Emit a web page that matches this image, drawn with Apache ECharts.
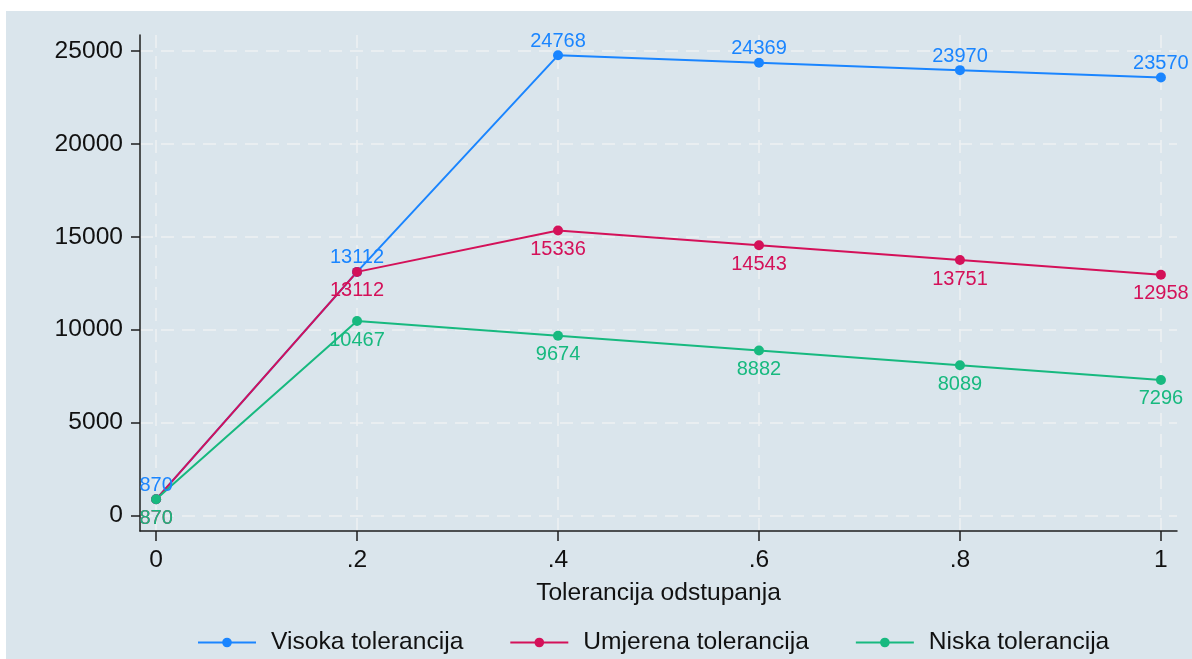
<!DOCTYPE html>
<html>
<head>
<meta charset="utf-8">
<script src="https://cdn.jsdelivr.net/npm/echarts@6/dist/echarts.min.js"></script>
<style>
html,body{margin:0;padding:0;background:#ffffff;width:1192px;height:659px;overflow:hidden;}
#chart{position:absolute;left:6px;top:11px;width:1186px;height:648px;background:#dae5ec;}
</style>
</head>
<body>
<div id="chart"></div>
<script>
// ---- data ----
const xValues = [0, 0.2, 0.4, 0.6, 0.8, 1];
const xTickLabels = ["0", ".2", ".4", ".6", ".8", "1"];
const yTicks = [0, 5000, 10000, 15000, 20000, 25000];
const seriesNames = ["Visoka tolerancija", "Umjerena tolerancija", "Niska tolerancija"];
const visoka = [870, 13112, 24768, 24369, 23970, 23570];
const umjerena = [870, 13112, 15336, 14543, 13751, 12958];
const niska = [870, 10467, 9674, 8882, 8089, 7296];
const xAxisTitle = "Tolerancija odstupanja";

const colors = ["#1a85ff", "#d41159", "#17b97f"];
const FONT = "'Liberation Sans', Arial, Helvetica, sans-serif";
const FS = 24.6;

function pairs(vals) { return xValues.map((x, i) => [x, vals[i]]); }

function mkSeries(name, vals, color, pos, dist) {
  return {
    name: name,
    type: 'line',
    data: pairs(vals),
    symbol: 'circle',
    symbolSize: 10,
    clip: false,
    lineStyle: { color: color, width: 2 },
    itemStyle: { color: color },
    label: {
      show: true,
      position: pos,
      distance: dist,
      color: color,
      fontSize: 20,
      fontFamily: FONT
    },
    emphasis: { disabled: true },
    animation: false
  };
}

const chart = echarts.init(document.getElementById('chart'), null, { renderer: 'canvas' });
const axisColor = '#1e1e1e';
const gridLine = { show: true, lineStyle: { color: '#eef1f2', width: 1.5, type: [13, 8] } };

chart.setOption({
  animation: false,
  backgroundColor: '#dae5ec',
  textStyle: { fontFamily: FONT },
  grid: { left: 134, right: 15, top: 24, bottom: 128, containLabel: false },
  xAxis: {
    type: 'value',
    min: -0.016,
    max: 1.016,
    name: xAxisTitle,
    nameLocation: 'middle',
    nameGap: 50,
    nameTextStyle: { fontSize: FS, color: '#111', fontFamily: FONT },
    axisLine: { show: true, onZero: false, lineStyle: { color: axisColor, width: 1.5 } },
    axisTick: { show: true, length: 10, customValues: xValues, lineStyle: { color: axisColor, width: 1.5 } },
    axisLabel: {
      customValues: xValues,
      margin: 17,
      fontSize: FS,
      color: '#111',
      fontFamily: FONT,
      formatter: function (v) {
        const i = xValues.findIndex(x => Math.abs(x - v) < 1e-9);
        return i >= 0 ? xTickLabels[i] : '';
      }
    },
    splitLine: gridLine
  },
  yAxis: {
    type: 'value',
    min: -834,
    max: 25861,
    axisLine: { show: true, onZero: false, lineStyle: { color: axisColor, width: 1.5 } },
    axisTick: { show: true, length: 9, customValues: yTicks, lineStyle: { color: axisColor, width: 1.5 } },
    axisLabel: {
      customValues: yTicks,
      margin: 17,
      fontSize: FS,
      color: '#111',
      fontFamily: FONT,
      formatter: function (v) { return String(v); }
    },
    splitLine: gridLine
  },
  legend: {
    left: 191,
    top: 619,
    padding: 0,
    itemWidth: 58,
    itemHeight: 12,
    itemGap: 46,
    textStyle: { fontSize: FS, color: '#111', fontFamily: FONT, padding: [0, 0, 0, 10] },
    data: seriesNames
  },
  series: [
    mkSeries(seriesNames[0], visoka, colors[0], 'top', -1),
    mkSeries(seriesNames[1], umjerena, colors[1], 'bottom', 4),
    mkSeries(seriesNames[2], niska, colors[2], 'bottom', 4)
  ]
});
</script>
</body>
</html>
